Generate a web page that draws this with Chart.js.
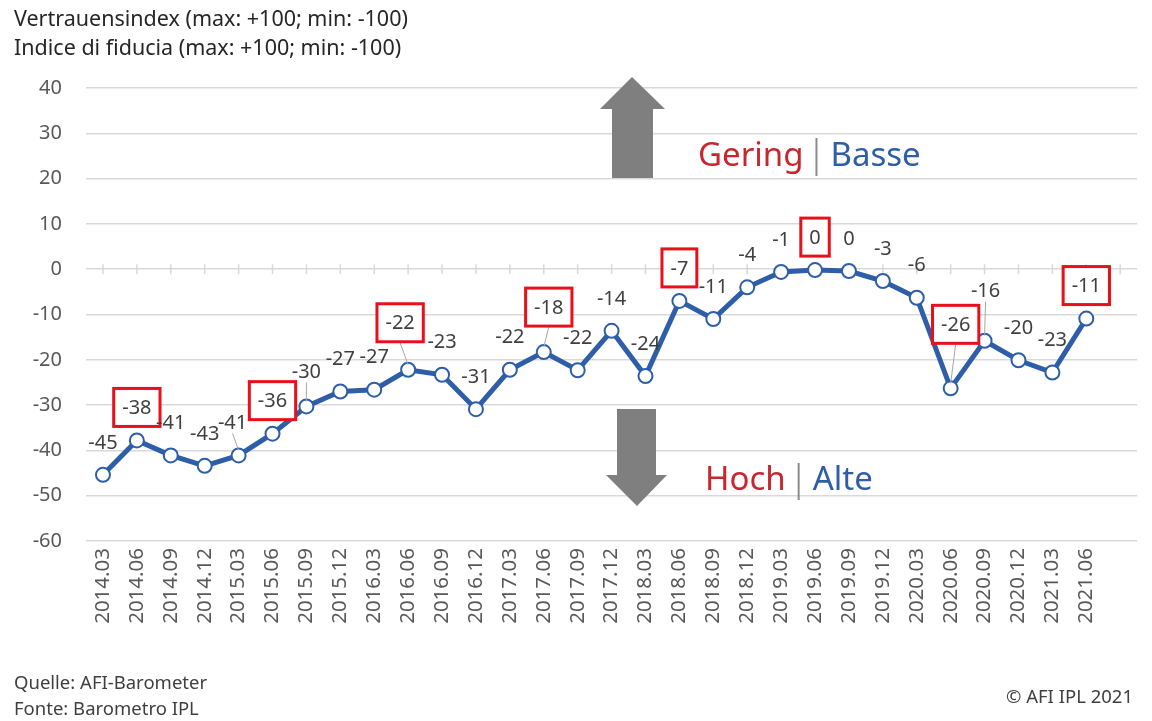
<!DOCTYPE html>
<html><head><meta charset="utf-8">
<script src="https://cdn.jsdelivr.net/npm/chart.js@4"></script>
<style>html,body{margin:0;padding:0;background:#fff}canvas{display:block}</style>
</head><body>
<canvas id="c" width="1152" height="721"></canvas>
<script>
// ---- data ----
const categories = ['2014.03','2014.06','2014.09','2014.12','2015.03','2015.06','2015.09','2015.12',
  '2016.03','2016.06','2016.09','2016.12','2017.03','2017.06','2017.09','2017.12',
  '2018.03','2018.06','2018.09','2018.12','2019.03','2019.06','2019.09','2019.12',
  '2020.03','2020.06','2020.09','2020.12','2021.03','2021.06'];
const values = [-45.4,-37.8,-41.1,-43.4,-41.1,-36.3,-30.3,-27.0,
  -26.6,-22.2,-23.3,-30.9,-22.2,-18.3,-22.3,-13.6,
  -23.6,-7.0,-11.0,-4.0,-0.6,-0.2,-0.4,-2.6,
  -6.3,-26.3,-15.8,-20.1,-22.8,-10.9];
const yTicks = {min:-60, max:40, step:10};
const titleLines = ['Vertrauensindex (max: +100; min: -100)','Indice di fiducia (max: +100; min: -100)'];
const sourceLines = ['Quelle: AFI-Barometer','Fonte: Barometro IPL'];
const copyright = '\u00A9 AFI IPL 2021';
const upLabel = ['Gering','Basse'];
const downLabel = ['Hoch','Alte'];
const boxed = [1,5,9,13,17,21,25,29]; // June values highlighted

// ---- label placement (style) ----
const labelShift = {4:[-6,-33,true],6:[0,-35,true],9:[-8,-47,true],13:[5,-45,true],25:[5,-64,true],26:[1,-50,true]};
const FONT = '"Noto Sans", sans-serif';
const BLUE = '#2E5EA8', RED = '#C8262F', GRID = '#d9d9d9';

const fmt = v => String(Math.round(v)).replace(/^-0$/,'0');

const decor = {
  id:'decor',
  beforeDatasetsDraw(chart){
    const {ctx, scales:{x,y}} = chart;
    ctx.save();
    // tick marks on zero line
    ctx.strokeStyle = GRID; ctx.lineWidth = 1.5;
    const y0 = y.getPixelForValue(0);
    for(let i=0;i<=categories.length;i++){
      const px = x.getPixelForValue(i);
      ctx.beginPath(); ctx.moveTo(px,y0-5); ctx.lineTo(px,y0+5); ctx.stroke();
    }
    // arrows
    ctx.fillStyle = '#7F7F7F';
    ctx.beginPath();
    ctx.moveTo(632,77); ctx.lineTo(665,109); ctx.lineTo(653,109); ctx.lineTo(653,178);
    ctx.lineTo(612,178); ctx.lineTo(612,109); ctx.lineTo(600,109); ctx.closePath(); ctx.fill();
    ctx.beginPath();
    ctx.moveTo(617,409); ctx.lineTo(656,409); ctx.lineTo(656,475); ctx.lineTo(667,475);
    ctx.lineTo(637,506); ctx.lineTo(606,475); ctx.lineTo(617,475); ctx.closePath(); ctx.fill();
    // texts
    const pair = (words, x0, base, top, bot) => {
      ctx.font = '33px ' + FONT; ctx.textBaseline = 'alphabetic'; ctx.textAlign = 'left';
      ctx.fillStyle = RED; ctx.fillText(words[0], x0, base);
      const w = ctx.measureText(words[0]).width;
      const sx = x0 + w + 13;
      ctx.strokeStyle = '#8c8c8c'; ctx.lineWidth = 2;
      ctx.beginPath(); ctx.moveTo(sx, top); ctx.lineTo(sx, bot); ctx.stroke();
      ctx.fillStyle = BLUE; ctx.fillText(words[1], sx + 14, base);
    };
    pair(upLabel, 698, 166, 138, 176);
    pair(downLabel, 705, 490, 463, 500);
    ctx.restore();
  },
  afterDatasetsDraw(chart){
    const {ctx} = chart;
    const meta = chart.getDatasetMeta(0);
    ctx.save();
    ctx.font = '20px ' + FONT; ctx.textAlign='center'; ctx.textBaseline='middle';
    values.forEach((v,i)=>{
      const pt = meta.data[i];
      const s = labelShift[i] || [0,-33,false];
      const cx = pt.x + s[0], cy = pt.y + s[1];
      const txt = fmt(v);
      const tw = ctx.measureText(txt).width;
      const isBox = boxed.includes(i);
      const halfH = isBox ? 19 : 10;
      if (s[2]) {
        ctx.strokeStyle = '#a6a6a6'; ctx.lineWidth = 1;
        ctx.beginPath(); ctx.moveTo(cx, cy + halfH + 1); ctx.lineTo(pt.x, pt.y - 5); ctx.stroke();
      }
      if (isBox) {
        const bw = tw + 17, bh = 38;
        ctx.fillStyle = '#fff'; ctx.fillRect(cx-bw/2, cy-bh/2, bw, bh);
        ctx.strokeStyle = '#E8101A'; ctx.lineWidth = 3;
        ctx.strokeRect(cx-bw/2, cy-bh/2, bw, bh);
      }
      ctx.fillStyle = '#404040';
      ctx.fillText(txt, cx, cy+1);
    });
    ctx.restore();
  },
  afterDraw(chart){
    const {ctx} = chart;
    ctx.save();
    ctx.fillStyle = '#262626'; ctx.font = '21.5px ' + FONT; ctx.textBaseline='alphabetic'; ctx.textAlign='left';
    ctx.fillText(titleLines[0], 14, 26);
    ctx.fillText(titleLines[1], 14, 55);
    ctx.fillStyle = '#404040'; ctx.font = '18.5px ' + FONT;
    ctx.fillText(sourceLines[0], 14, 689);
    ctx.fillText(sourceLines[1], 14, 715);
    ctx.textAlign='right';
    ctx.fillText(copyright, 1133, 703);
    ctx.restore();
  }
};

new Chart(document.getElementById('c'), {
  type:'line',
  data:{
    labels:[...categories, ''],   // axis has one trailing empty slot
    datasets:[{
      data:[...values, null],
      borderColor:BLUE, borderWidth:5, tension:0,
      pointRadius:7, pointHoverRadius:7, pointBackgroundColor:'#fff',
      pointBorderColor:BLUE, pointBorderWidth:2, clip:false
    }]
  },
  options:{
    responsive:false, animation:false, devicePixelRatio:1,
    layout:{padding:{top:88,left:0,right:12,bottom:80}},
    plugins:{legend:{display:false}, tooltip:{enabled:false}},
    scales:{
      x:{
        offset:true,
        grid:{display:false, drawTicks:false}, border:{display:false},
        ticks:{autoSkip:false, maxRotation:90, minRotation:90, padding:7,
          color:'#595959', font:{family:FONT, size:20.5}},
        afterFit(s){ s.height = 100; }
      },
      y:{
        min:yTicks.min, max:yTicks.max,
        grid:{color:GRID, lineWidth:1.5, drawTicks:false}, border:{display:false},
        ticks:{stepSize:yTicks.step, padding:24, color:'#595959', font:{family:FONT, size:20}},
        afterFit(s){ s.width = 86; }
      }
    }
  },
  plugins:[decor]
});
</script>
</body></html>
